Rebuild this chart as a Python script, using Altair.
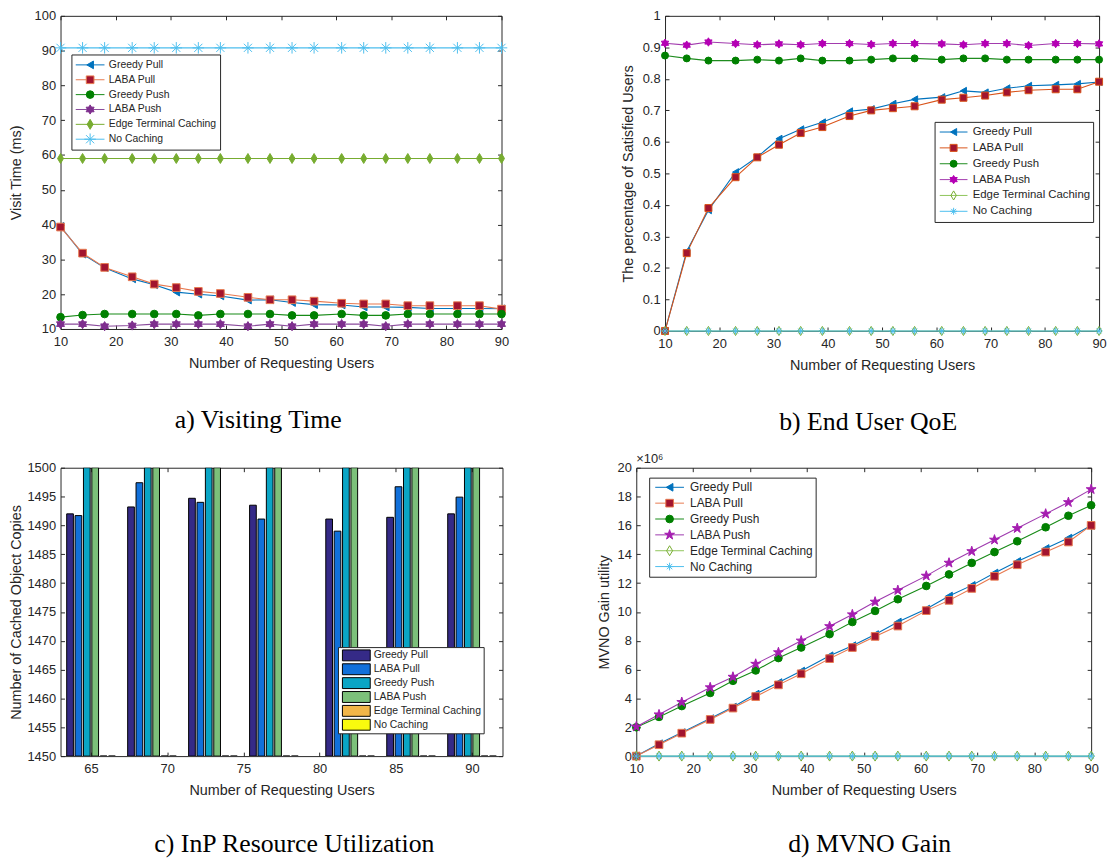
import altair as alt
import pandas as pd

SANS = "Liberation Sans"
SERIF = "Liberation Serif"
INK = "#262626"

USERS = [10, 14, 18, 23, 27, 31, 35, 39, 44, 48, 52, 56, 61, 65, 69, 73, 77, 82, 86, 90]
SERIES = ["Greedy Pull", "LABA Pull", "Greedy Push", "LABA Push", "Edge Terminal Caching", "No Caching"]
X_TICKS = [10, 20, 30, 40, 50, 60, 70, 80, 90]

# a) Visiting time (ms)
A_GREEDY_PULL = [39.5, 31.5, 27.6, 24.4, 22.7, 20.6, 20.0, 19.5, 18.3, 18.4, 17.6, 17.0, 16.9, 16.3, 16.3, 16.2, 15.9, 15.9, 15.9, 15.8]
A_LABA_PULL = [39.3, 31.8, 27.7, 25.0, 22.9, 21.9, 20.8, 20.2, 19.1, 18.4, 18.4, 18.0, 17.4, 17.2, 17.2, 16.7, 16.7, 16.7, 16.7, 15.7]
A_GREEDY_PUSH = [13.4, 14.0, 14.3, 14.3, 14.3, 14.3, 13.9, 14.3, 14.3, 14.3, 13.9, 13.9, 14.3, 13.9, 13.9, 14.3, 14.3, 14.3, 14.3, 14.3]
A_LABA_PUSH = [11.4, 11.4, 10.8, 11.0, 11.4, 11.4, 11.4, 11.4, 10.8, 11.4, 10.8, 11.4, 11.4, 11.4, 10.8, 11.4, 11.4, 11.4, 11.4, 11.4]
A_EDGE = [59.0, 59.0, 59.0, 59.0, 59.0, 59.0, 59.0, 59.0, 59.0, 59.0, 59.0, 59.0, 59.0, 59.0, 59.0, 59.0, 59.0, 59.0, 59.0, 59.0]
A_NO_CACHE = [90.8, 90.8, 90.8, 90.8, 90.8, 90.8, 90.8, 90.8, 90.8, 90.8, 90.8, 90.8, 90.8, 90.8, 90.8, 90.8, 90.8, 90.8, 90.8, 90.8]
A_Y_TICKS = [10, 20, 30, 40, 50, 60, 70, 80, 90, 100]

# b) End user QoE (share of satisfied users)
B_GREEDY_PULL = [0.0, 0.253, 0.383, 0.504, 0.552, 0.610, 0.640, 0.662, 0.697, 0.704, 0.721, 0.735, 0.742, 0.762, 0.757, 0.770, 0.778, 0.781, 0.784, 0.790]
B_LABA_PULL = [0.0, 0.247, 0.390, 0.488, 0.551, 0.591, 0.628, 0.647, 0.682, 0.700, 0.707, 0.713, 0.734, 0.740, 0.747, 0.757, 0.764, 0.767, 0.767, 0.791]
B_GREEDY_PUSH = [0.874, 0.865, 0.858, 0.858, 0.861, 0.858, 0.865, 0.858, 0.858, 0.861, 0.865, 0.865, 0.861, 0.865, 0.865, 0.861, 0.861, 0.861, 0.861, 0.861]
B_LABA_PUSH = [0.913, 0.907, 0.917, 0.912, 0.908, 0.911, 0.908, 0.912, 0.912, 0.909, 0.912, 0.912, 0.911, 0.908, 0.912, 0.912, 0.906, 0.912, 0.912, 0.911]
B_EDGE = [0.0, 0.0, 0.0, 0.0, 0.0, 0.0, 0.0, 0.0, 0.0, 0.0, 0.0, 0.0, 0.0, 0.0, 0.0, 0.0, 0.0, 0.0, 0.0, 0.0]
B_NO_CACHE = [0.0, 0.0, 0.0, 0.0, 0.0, 0.0, 0.0, 0.0, 0.0, 0.0, 0.0, 0.0, 0.0, 0.0, 0.0, 0.0, 0.0, 0.0, 0.0, 0.0]
B_Y_TICKS = [0, 0.1, 0.2, 0.3, 0.4, 0.5, 0.6, 0.7, 0.8, 0.9, 1]

# c) InP resource utilization (cached object copies)
C_GROUPS = [65, 69, 73, 77, 82, 86, 90]
C_GREEDY_PULL = [1492.0, 1493.2, 1494.7, 1493.5, 1491.1, 1491.4, 1492.0]
C_LABA_PULL = [1491.7, 1497.4, 1494.0, 1491.1, 1489.0, 1496.7, 1494.9]
C_GREEDY_PUSH = [1500, 1500, 1500, 1500, 1500, 1500, 1500]
C_LABA_PUSH = [1500, 1500, 1500, 1500, 1500, 1500, 1500]
C_EDGE = [0, 0, 0, 0, 0, 0, 0]
C_NO_CACHE = [0, 0, 0, 0, 0, 0, 0]
C_X_TICKS = [65, 70, 75, 80, 85, 90]
C_Y_TICKS = [1450, 1455, 1460, 1465, 1470, 1475, 1480, 1485, 1490, 1495, 1500]

# d) MVNO gain (x 10^6)
D_GREEDY_PULL = [0.0, 0.86, 1.63, 2.60, 3.40, 4.30, 5.10, 5.90, 6.96, 7.66, 8.43, 9.30, 10.20, 11.10, 11.84, 12.70, 13.50, 14.40, 15.12, 15.99]
D_LABA_PULL = [0.0, 0.79, 1.59, 2.54, 3.33, 4.13, 4.94, 5.71, 6.76, 7.53, 8.30, 9.02, 10.09, 10.80, 11.63, 12.47, 13.27, 14.15, 14.85, 16.00]
D_GREEDY_PUSH = [2.00, 2.72, 3.47, 4.38, 5.22, 5.94, 6.80, 7.53, 8.46, 9.30, 10.07, 10.88, 11.80, 12.60, 13.40, 14.15, 14.90, 15.87, 16.67, 17.40]
D_LABA_PUSH = [2.04, 2.88, 3.74, 4.76, 5.49, 6.39, 7.19, 8.00, 9.00, 9.82, 10.70, 11.50, 12.50, 13.40, 14.20, 15.00, 15.80, 16.80, 17.60, 18.50]
D_EDGE = [0.0, 0.0, 0.0, 0.0, 0.0, 0.0, 0.0, 0.0, 0.0, 0.0, 0.0, 0.0, 0.0, 0.0, 0.0, 0.0, 0.0, 0.0, 0.0, 0.0]
D_NO_CACHE = [0.0, 0.0, 0.0, 0.0, 0.0, 0.0, 0.0, 0.0, 0.0, 0.0, 0.0, 0.0, 0.0, 0.0, 0.0, 0.0, 0.0, 0.0, 0.0, 0.0]
D_Y_TICKS = [0, 2, 4, 6, 8, 10, 12, 14, 16, 18, 20]

# marker shapes
HEXAGRAM = "M0,-1.2L1.04,0.6L-1.04,0.6Z M0,1.2L-1.04,-0.6L1.04,-0.6Z"
PENTAGRAM = ("M0,-1.35L0.303,-0.417L1.284,-0.417L0.49,0.159L0.794,1.092L0,0.516"
             "L-0.794,1.092L-0.49,0.159L-1.284,-0.417L-0.303,-0.417Z")
DIAMOND = "M0,-1.3L0.78,0L0,1.3L-0.78,0Z"
ASTERISK_BIG = "M-1.5,0L1.5,0M0,-1.5L0,1.5M-1.06,-1.06L1.06,1.06M-1.06,1.06L1.06,-1.06"
ASTERISK = "M-1,0L1,0M0,-1L0,1M-0.7,-0.7L0.7,0.7M-0.7,0.7L0.7,-0.7"
RECT = "M-2.55,-1L2.55,-1L2.55,1L-2.55,1Z"

A_LINE = ["#0072BD", "#E8794F", "#168A16", "#8A4A9C", "#77AC30", "#4DBEEE"]
A_FILL = ["#0072BD", "#A2142F", "#008000", "#7E2F8E", "#77AC30", "transparent"]
A_EDGE_C = ["#0072BD", "#E8794F", "#008000", "#7E2F8E", "#77AC30", "#4DBEEE"]
A_SHAPE = ["triangle-left", "square", "circle", HEXAGRAM, DIAMOND, ASTERISK_BIG]

B_LINE = ["#0072BD", "#D95319", "#1E8C1E", "#A23BAE", "#8FC45A", "#4DBEEE"]
B_FILL = ["#0072BD", "#A2142F", "#008000", "#B400B4", "transparent", "transparent"]
B_EDGE_C = ["#0072BD", "#D95319", "#008000", "#B400B4", "#77AC30", "#4DBEEE"]
B_SHAPE = ["triangle-left", "square", "circle", HEXAGRAM, DIAMOND, ASTERISK]

D_LINE = ["#0072BD", "#E8794F", "#168A16", "#9E3AAE", "#8FC45A", "#4DBEEE"]
D_FILL = ["#0072BD", "#A2142F", "#008000", "#A51DB0", "transparent", "transparent"]
D_EDGE_C = ["#0072BD", "#E8794F", "#008000", "#A51DB0", "#77AC30", "#4DBEEE"]
D_SHAPE = ["triangle-left", "square", "circle", PENTAGRAM, DIAMOND, ASTERISK]

C_COLORS = ["#352A87", "#1170DA", "#0AA5C5", "#7CC07A", "#F2B648", "#F9FB0E"]

AX = dict(labelFont=SANS, labelFontSize=13, labelColor=INK, titleFont=SANS, titleFontSize=14.5,
          titleColor=INK, titleFontWeight="normal", grid=False, domain=False, ticks=False,
          tickSize=0, labelFlush=False, labelOverlap=False)

IND = dict(color="independent", fill="independent", stroke="independent", shape="independent")


def main_x(vals, title):
    return alt.Axis(orient="bottom", values=vals, title=title, labelPadding=7, titlePadding=8, **AX)


def main_y(vals, title, fmt, ext, tp):
    return alt.Axis(orient="left", values=vals, title=title, format=fmt, labelPadding=5,
                    titlePadding=tp, minExtent=ext, maxExtent=ext, **AX)


def in_ticks(orient, offset, vals):
    return alt.Axis(orient=orient, offset=offset, values=vals, labels=False, domain=False,
                    ticks=True, tickSize=4, tickColor=INK, tickWidth=1, grid=False, title=None,
                    minExtent=0, maxExtent=0)


def caption(text, dx, off):
    return alt.TitleParams(text=text, orient="bottom", anchor="middle", frame="group", font=SERIF,
                           fontSize=26, fontWeight="normal", color="black", offset=off, dx=dx)


def legend_pair(lx, ly, fs, row, pad, sym_size, center, label_x, half_len):
    s = sym_size ** 0.5
    sym_off = center - pad - s / 2
    lab_off = label_x - pad - sym_off - s
    k = half_len / (s / 2)
    common = dict(orient="none", legendX=lx, legendY=ly, direction="vertical", title=None,
                  labelFont=SANS, labelFontSize=fs, labelColor=INK, rowPadding=0, clipHeight=row,
                  padding=pad, symbolSize=sym_size, symbolOffset=sym_off, labelOffset=lab_off,
                  symbolStrokeWidth=1, labelLimit=300)
    line_leg = alt.Legend(symbolType=f"M{-k:.3f},0L{k:.3f},0", strokeColor=INK,
                          fillColor="white", zindex=1, **common)
    mark_leg = alt.Legend(labelOpacity=0, zindex=2, **common)
    return line_leg, mark_leg


def line_panel(vals_list, ydom, yvals, yfmt, ytitle, W, H, line_c, fill_c, edge_c, shapes,
               msize, leg, y_ext, y_tp, cap, extra=()):
    rows = []
    for s, vals in zip(SERIES, vals_list):
        for u, v in zip(USERS, vals):
            rows.append({"users": u, "value": v, "series": s})
    df = pd.DataFrame(rows)
    xs = alt.Scale(domain=[10, 90], nice=False, zero=False)
    ys = alt.Scale(domain=ydom, nice=False, zero=False)
    line_leg, mark_leg = leg
    lines = alt.Chart(df).mark_line(strokeWidth=1.1).encode(
        x=alt.X("users:Q", scale=xs, axis=main_x(X_TICKS, "Number of Requesting Users")),
        y=alt.Y("value:Q", scale=ys, axis=main_y(yvals, ytitle, yfmt, y_ext, y_tp)),
        color=alt.Color("series:N", sort=SERIES, scale=alt.Scale(range=line_c), legend=line_leg),
    )
    pts = alt.Chart(df).mark_point(filled=True, opacity=1, strokeWidth=1, size=msize).encode(
        x=alt.X("users:Q", scale=xs, axis=in_ticks("top", -H, X_TICKS)),
        y=alt.Y("value:Q", scale=ys, axis=in_ticks("right", -W, yvals)),
        shape=alt.Shape("series:N", scale=alt.Scale(domain=SERIES, range=shapes), legend=mark_leg),
        fill=alt.Fill("series:N", scale=alt.Scale(domain=SERIES, range=fill_c), legend=mark_leg),
        stroke=alt.Stroke("series:N", scale=alt.Scale(domain=SERIES, range=edge_c), legend=mark_leg),
    )
    ghost = alt.Chart(df).mark_point(opacity=0).encode(
        x=alt.X("users:Q", scale=xs, axis=in_ticks("bottom", -H, X_TICKS)),
        y=alt.Y("value:Q", scale=ys, axis=in_ticks("left", -W, yvals)),
    )
    return alt.layer(lines, pts, ghost, *extra).resolve_axis(
        x="independent", y="independent").properties(width=W, height=H, title=cap)


# ---- panel a
WA, HA = 445, 316
panel_a = line_panel(
    [A_GREEDY_PULL, A_LABA_PULL, A_GREEDY_PUSH, A_LABA_PUSH, A_EDGE, A_NO_CACHE],
    [10, 100], A_Y_TICKS, "d", "Visit Time (ms)", WA, HA, A_LINE, A_FILL, A_EDGE_C, A_SHAPE, 60,
    legend_pair(11, 39, 10.5, 15, 3, 60, 17.5, 35, 14.5), 27, 10,
    caption("a) Visiting Time", -23, 37))

# ---- panel b
WB, HB = 438, 318
panel_b = line_panel(
    [B_GREEDY_PULL, B_LABA_PULL, B_GREEDY_PUSH, B_LABA_PUSH, B_EDGE, B_NO_CACHE],
    [0, 1], B_Y_TICKS, "~g", "The percentage of Satisfied Users", WB, HB, B_LINE, B_FILL,
    B_EDGE_C, B_SHAPE, 50, legend_pair(272, 107, 11.5, 15.7, 2.4, 50, 17, 34, 14), 27, 3,
    caption("b) End User QoE", -14, 37))

# ---- panel d
WD, HD = 459, 291
exp_label = alt.Chart(pd.DataFrame({"t": ["\u00d710\u2076"]})).mark_text(
    align="left", baseline="middle", dy=-9, font=SANS, fontSize=13, color=INK).encode(
    x=alt.XDatum(10, axis=None), y=alt.YDatum(20, axis=None), text="t:N")
panel_d = line_panel(
    [D_GREEDY_PULL, D_LABA_PULL, D_GREEDY_PUSH, D_LABA_PUSH, D_EDGE, D_NO_CACHE],
    [0, 20], D_Y_TICKS, "d", "MVNO Gain utility", WD, HD, D_LINE, D_FILL, D_EDGE_C, D_SHAPE, 60,
    legend_pair(13, 10, 12, 15.1, 2.2, 60, 18.5, 37, 14.5), 20, 5,
    caption("d) MVNO Gain", 6, 34), extra=(exp_label,))

# ---- panel c (grouped bars)
WC, HC = 446, 291
crows = []
for i, (s, vals) in enumerate(zip(SERIES, [C_GREEDY_PULL, C_LABA_PULL, C_GREEDY_PUSH, C_LABA_PUSH, C_EDGE, C_NO_CACHE])):
    for g, v in zip(C_GROUPS, vals):
        crows.append({"group": g, "value": v, "series": s, "slot": i})
dfc = pd.DataFrame(crows)
cxs = alt.Scale(domain=[63, 92], nice=False, zero=False)
cys = alt.Scale(domain=[1450, 1500], nice=False, zero=False, clamp=True)
c_leg = alt.Legend(orient="none", legendX=280, legendY=181, direction="vertical", title=None,
                   labelFont=SANS, labelFontSize=10.5, labelColor=INK, rowPadding=0, clipHeight=13.7,
                   padding=1.5, symbolType=RECT, symbolSize=121, symbolOffset=11, labelOffset=11.5,
                   symbolStrokeColor="black", symbolStrokeWidth=1, strokeColor=INK,
                   fillColor="white", labelLimit=300)
bars = alt.Chart(dfc).transform_calculate(
    x0="datum.group + 0.55 * (datum.slot - 2.5) - 0.22",
    x1="datum.group + 0.55 * (datum.slot - 2.5) + 0.22",
).mark_rect(stroke="black", strokeWidth=1, clip=True).encode(
    x=alt.X("x0:Q", scale=cxs, axis=main_x(C_X_TICKS, "Number of Requesting Users")),
    x2="x1:Q",
    y=alt.Y("value:Q", scale=cys, axis=main_y(C_Y_TICKS, "Number of Cached Object Copies", "d", 34, 3)),
    y2=alt.Y2Datum(1450),
    fill=alt.Fill("series:N", scale=alt.Scale(domain=SERIES, range=C_COLORS), legend=c_leg),
)
c_t1 = alt.Chart(dfc).mark_point(opacity=0).encode(
    x=alt.X("group:Q", scale=cxs, axis=in_ticks("top", -HC, C_X_TICKS)),
    y=alt.Y("value:Q", scale=cys, axis=in_ticks("right", -WC, C_Y_TICKS)),
)
c_t2 = alt.Chart(dfc).mark_point(opacity=0).encode(
    x=alt.X("group:Q", scale=cxs, axis=in_ticks("bottom", -HC, C_X_TICKS)),
    y=alt.Y("value:Q", scale=cys, axis=in_ticks("left", -WC, C_Y_TICKS)),
)
panel_c = alt.layer(bars, c_t1, c_t2).resolve_axis(
    x="independent", y="independent").properties(
    width=WC, height=HC, title=caption("c) InP Resource Utilization", 13, 34))

row1 = alt.hconcat(panel_a, panel_b, spacing=110).resolve_scale(**IND).resolve_legend(**IND)
row2 = alt.hconcat(panel_c, panel_d, spacing=93).resolve_scale(**IND).resolve_legend(**IND)
chart = alt.vconcat(row1, row2, spacing=17).resolve_scale(**IND).resolve_legend(**IND).properties(
    padding={"left": 0, "top": -3, "right": 0, "bottom": 6}, background="white"
).configure_view(stroke=INK, strokeWidth=1)

chart.save("out.html", embed_options={"renderer": "svg", "actions": False})
